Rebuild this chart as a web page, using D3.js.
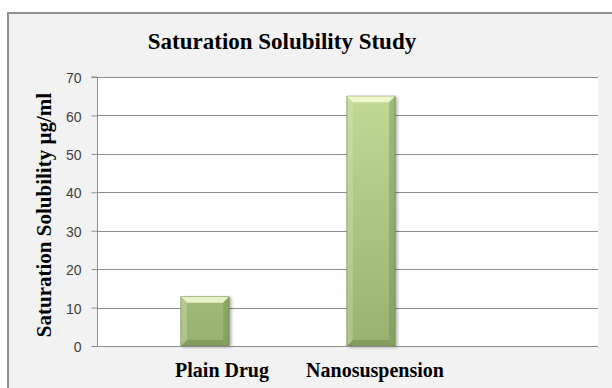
<!DOCTYPE html>
<html>
<head>
<meta charset="utf-8">
<script src="https://cdn.jsdelivr.net/npm/d3@7"></script>
<style>
  html, body { margin: 0; padding: 0; background: #fff; }
  svg { display: block; }
</style>
</head>
<body>
<svg id="svg" width="612" height="388"></svg>
<script>
const categories = ['Plain Drug', 'Nanosuspension']
const solubility = [12.8, 65]
const yTicks = [0, 10, 20, 30, 40, 50, 60, 70]
const chartTitle = 'Saturation Solubility Study'
const yTitle = 'Saturation Solubility \u00b5g/ml'

const plot = { left: 98, right: 598, top: 77, bottom: 346 }

const svg = d3.select('#svg')

// outer chart area
svg.append('rect')
  .attr('x', 8).attr('y', 13)
  .attr('width', 640).attr('height', 400)
  .attr('fill', '#f2f2f2')
  .attr('stroke', '#8f8f8f')
  .attr('stroke-width', 2)

const defs = svg.append('defs')
const grad = defs.append('linearGradient')
  .attr('id', 'barFill')
  .attr('gradientUnits', 'userSpaceOnUse')
  .attr('x1', 0).attr('x2', 0)
  .attr('y1', plot.top).attr('y2', plot.bottom)
grad.append('stop').attr('offset', '0%').attr('stop-color', '#c4dc98')
grad.append('stop').attr('offset', '100%').attr('stop-color', '#98b171')

const shadow = defs.append('filter').attr('id', 'shadow')
  .attr('x', '-20%').attr('y', '-5%').attr('width', '150%').attr('height', '110%')
shadow.append('feDropShadow')
  .attr('dx', 2).attr('dy', 1).attr('stdDeviation', 1.5)
  .attr('flood-color', '#000').attr('flood-opacity', 0.3)

// plot area
svg.append('rect')
  .attr('x', plot.left).attr('y', plot.top)
  .attr('width', plot.right - plot.left).attr('height', plot.bottom - plot.top)
  .attr('fill', '#fff')

const yScale = d3.scaleLinear()
  .domain([0, 70])
  .range([plot.bottom, plot.top])

const xScale = d3.scaleBand()
  .domain(categories)
  .range([plot.left + 24, plot.left + 356])
  .paddingInner(0.71)
  .paddingOuter(0.355)

// label positions (labels sit a little closer together than the bars)
const labelScale = d3.scalePoint()
  .domain(categories)
  .range([222, 375])

// gridlines
svg.append('g')
  .selectAll('line')
  .data(yTicks)
  .join('line')
  .attr('x1', plot.left).attr('x2', plot.right)
  .attr('y1', d => Math.round(yScale(d)) + 0.5)
  .attr('y2', d => Math.round(yScale(d)) + 0.5)
  .attr('stroke', '#8c8c8c')
  .attr('stroke-width', 1)

// y axis
const yAxis = svg.append('g')
  .attr('transform', `translate(${plot.left - 0.5},0)`)
  .call(d3.axisLeft(yScale).tickValues(yTicks).tickSize(6).tickPadding(10))
yAxis.select('.domain').attr('stroke', '#8c8c8c').attr('d', `M-6,${plot.top}H0V${plot.bottom}`)
yAxis.selectAll('.tick line').attr('stroke', '#8c8c8c')
yAxis.selectAll('.tick text')
  .attr('font-family', 'Liberation Sans, Arial, sans-serif')
  .attr('font-size', 14)
  .attr('fill', '#404040')
  .attr('dy', '0.4em')

// bars
const bars = svg.append('g')
  .selectAll('g')
  .data(categories.map((c, i) => ({ cat: c, val: solubility[i] })))
  .join('g')

bars.append('rect')
  .attr('x', d => xScale(d.cat))
  .attr('y', d => yScale(d.val))
  .attr('width', xScale.bandwidth())
  .attr('height', d => yScale(0) - yScale(d.val))
  .attr('fill', 'url(#barFill)')
  .attr('stroke', '#6c8449')
  .attr('stroke-width', 0.8)
  .attr('filter', 'url(#shadow)')

// bevel edges
const bev = 6
bars.each(function (d) {
  const g = d3.select(this)
  const x0 = xScale(d.cat)
  const x1 = x0 + xScale.bandwidth()
  const y0 = yScale(d.val)
  const y1 = yScale(0)
  const poly = (pts, fill, op) => g.append('polygon')
    .attr('points', pts.map(p => p.join(',')).join(' '))
    .attr('fill', fill).attr('opacity', op)
  poly([[x0, y0], [x1, y0], [x1 - bev, y0 + bev], [x0 + bev, y0 + bev]], '#f4fbd6', 0.85)
  poly([[x0, y0], [x0 + bev, y0 + bev], [x0 + bev, y1 - bev], [x0, y1]], '#dcebbf', 0.3)
  poly([[x1, y0], [x1, y1], [x1 - bev, y1 - bev], [x1 - bev, y0 + bev]], '#6f8a4c', 0.4)
  poly([[x0, y1], [x0 + bev, y1 - bev], [x1 - bev, y1 - bev], [x1, y1]], '#6f8a4c', 0.5)
})

// zero line on top
svg.append('line')
  .attr('x1', plot.left - 6).attr('x2', plot.right)
  .attr('y1', Math.round(yScale(0)) + 0.5).attr('y2', Math.round(yScale(0)) + 0.5)
  .attr('stroke', '#8c8c8c')

// category labels
svg.append('g')
  .selectAll('text')
  .data(categories)
  .join('text')
  .attr('x', d => labelScale(d))
  .attr('y', 377)
  .attr('text-anchor', 'middle')
  .attr('font-family', 'Liberation Serif, Times New Roman, serif')
  .attr('font-weight', 'bold')
  .attr('font-size', 20)
  .attr('fill', '#000')
  .text(d => d)

// title
svg.append('text')
  .attr('x', 282)
  .attr('y', 49)
  .attr('text-anchor', 'middle')
  .attr('font-family', 'Liberation Serif, Times New Roman, serif')
  .attr('font-weight', 'bold')
  .attr('font-size', 23)
  .text(chartTitle)

// y axis title
svg.append('text')
  .attr('transform', 'translate(51,215) rotate(-90)')
  .attr('text-anchor', 'middle')
  .attr('font-family', 'Liberation Serif, Times New Roman, serif')
  .attr('font-weight', 'bold')
  .attr('font-size', 21)
  .text(yTitle)
</script>
</body>
</html>
